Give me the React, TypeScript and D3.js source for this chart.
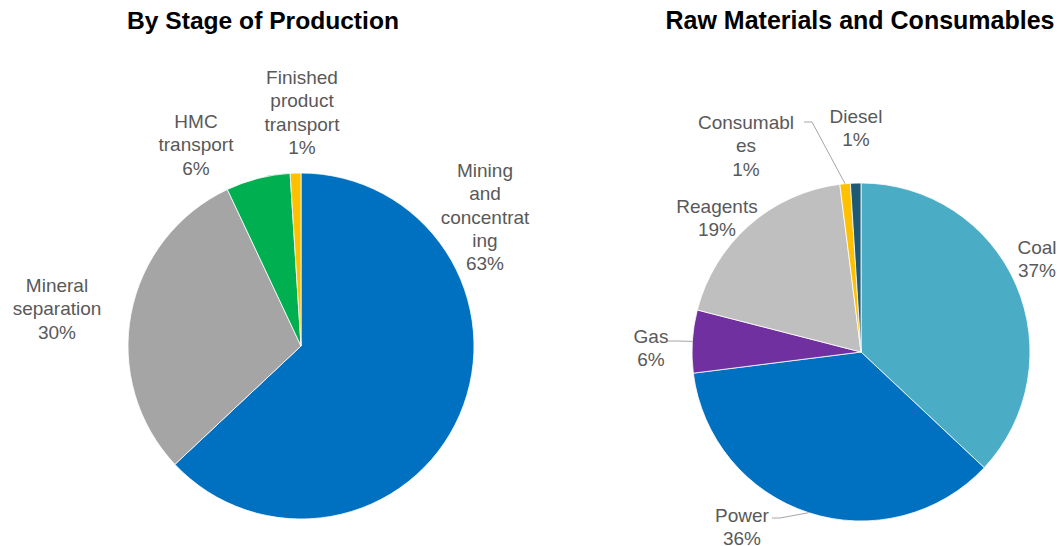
import React from "react";
import * as d3 from "d3";

// ---------- data ----------
const stageCategories = [
  "Mining\nand\nconcentrat\ning",
  "Mineral\nseparation",
  "HMC\ntransport",
  "Finished\nproduct\ntransport",
];
const stageValues = [63, 30, 6, 1];
const stageColors = ["#0070C0", "#A5A5A5", "#00B050", "#FFC000"];

const rawCategories = ["Coal", "Power", "Gas", "Reagents", "Consumabl\nes", "Diesel"];
const rawValues = [37, 36, 6, 19, 1, 1];
const rawColors = ["#4BACC6", "#0070C0", "#7030A0", "#BFBFBF", "#FFC000", "#1F5A74"];

const titles = ["By Stage of Production", "Raw Materials and Consumables"];

// ---------- layout ----------
const W = 1060;
const H = 546;
const pies = [
  { cx: 301, cy: 346, r: 173, titleX: 263, titleSize: 24.6 },
  { cx: 861, cy: 352, r: 169, titleX: 860, titleSize: 25 },
];
// label anchors: centre x, baseline of first line; leader: line from label end
const stageLabelPos = [
  { x: 485, y: 177 },
  { x: 57, y: 292 },
  { x: 196, y: 128 },
  { x: 302, y: 84 },
];
const rawLabelPos = [
  { x: 1037, y: 254 },
  { x: 742, y: 522, leader: { x: 772, y: 518 } },
  { x: 651, y: 343, leader: { x: 668, y: 341 } },
  { x: 717, y: 213 },
  { x: 746, y: 129, leader: { x: 804, y: 122 } },
  { x: 856, y: 123 },
];

const LINE_H = 23.3;
const FONT = "Arial, 'Liberation Sans', sans-serif";

function Pie({ values, cats, colors, geom, labelPos, title }: any) {
  const pie = d3.pie<number>().sort(null).value((d) => d);
  const arcs = pie(values);
  const arc = d3.arc<d3.PieArcDatum<number>>().innerRadius(0).outerRadius(geom.r);
  return (
    <g>
      <text
        x={geom.titleX}
        y={29}
        textAnchor="middle"
        fontFamily={FONT}
        fontWeight="bold"
        fontSize={geom.titleSize}
        fill="#000"
      >
        {title}
      </text>
      <g transform={`translate(${geom.cx},${geom.cy})`}>
        {arcs.map((a, i) => (
          <path key={i} d={arc(a) || ""} fill={colors[i]} stroke="#fff" strokeWidth={0.8} />
        ))}
      </g>
      {arcs.map((a, i) => {
        const lp = labelPos[i];
        const lines = `${cats[i]}\n${values[i]}%`.split("\n");
        let leader = null;
        if (lp.leader) {
          const mid = (a.startAngle + a.endAngle) / 2;
          const ex = geom.cx + geom.r * Math.sin(mid);
          const ey = geom.cy - geom.r * Math.cos(mid);
          const hx = lp.leader.x + 8;
          leader = (
            <polyline
              points={`${lp.leader.x},${lp.leader.y} ${hx},${lp.leader.y} ${ex},${ey}`}
              fill="none"
              stroke="#A6A6A6"
              strokeWidth={1}
            />
          );
        }
        return (
          <g key={i}>
            {leader}
            <text textAnchor="middle" fontFamily={FONT} fontSize={19} fill="#595959">
              {lines.map((l, j) => (
                <tspan key={j} x={lp.x} y={lp.y + j * LINE_H}>
                  {l}
                </tspan>
              ))}
            </text>
          </g>
        );
      })}
    </g>
  );
}

export default function App() {
  return (
    <svg
      width={W}
      height={H}
      style={{ position: "absolute", left: 0, top: 0, background: "#fff" }}
    >
      <rect width={W} height={H} fill="#fff" />
      <Pie
        values={stageValues}
        cats={stageCategories}
        colors={stageColors}
        geom={pies[0]}
        labelPos={stageLabelPos}
        title={titles[0]}
      />
      <Pie
        values={rawValues}
        cats={rawCategories}
        colors={rawColors}
        geom={pies[1]}
        labelPos={rawLabelPos}
        title={titles[1]}
      />
    </svg>
  );
}
